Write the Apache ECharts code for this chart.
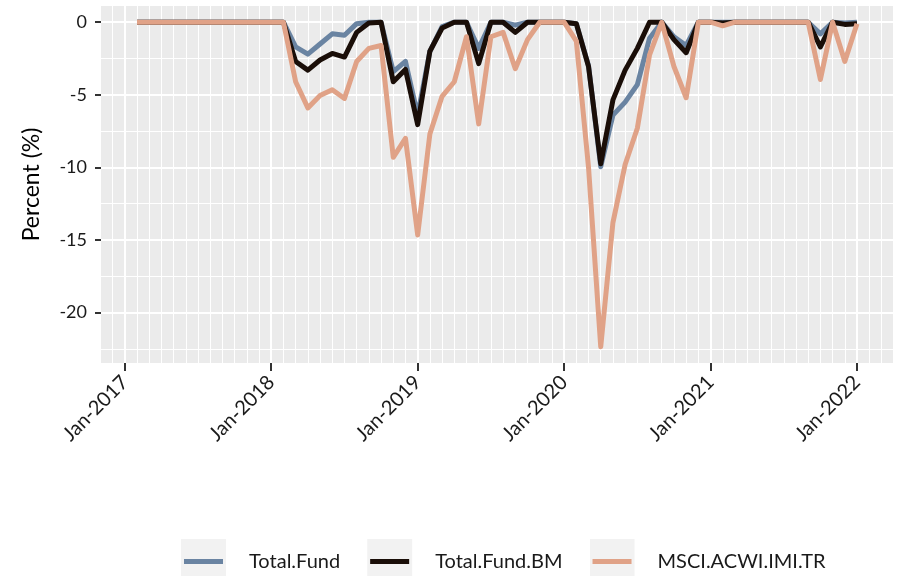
<!DOCTYPE html>
<html>
<head>
<meta charset="utf-8">
<script src="https://cdn.jsdelivr.net/npm/echarts@6/dist/echarts.min.js"></script>
<style>
  html, body { margin: 0; padding: 0; background: #fff; }
  #chart { width: 899px; height: 576px; }
</style>
</head>
<body>
<div id="chart"></div>
<script>
var chart = echarts.init(document.getElementById('chart'));

// month-end dates (drawdown series, monthly)
var dates = [
  '2017-01-31','2017-02-28','2017-03-31','2017-04-30','2017-05-31','2017-06-30',
  '2017-07-31','2017-08-31','2017-09-30','2017-10-31','2017-11-30','2017-12-31',
  '2018-01-31','2018-02-28','2018-03-31','2018-04-30','2018-05-31','2018-06-30',
  '2018-07-31','2018-08-31','2018-09-30','2018-10-31','2018-11-30','2018-12-31',
  '2019-01-31','2019-02-28','2019-03-31','2019-04-30','2019-05-31','2019-06-30',
  '2019-07-31','2019-08-31','2019-09-30','2019-10-31','2019-11-30','2019-12-31',
  '2020-01-31','2020-02-29','2020-03-31','2020-04-30','2020-05-31','2020-06-30',
  '2020-07-31','2020-08-31','2020-09-30','2020-10-31','2020-11-30','2020-12-31',
  '2021-01-31','2021-02-28','2021-03-31','2021-04-30','2021-05-31','2021-06-30',
  '2021-07-31','2021-08-31','2021-09-30','2021-10-31','2021-11-30','2021-12-31'
];

var totalFund = [
  0, 0, 0, 0, 0, 0, 0, 0, 0, 0, 0, 0,
  0, -1.7, -2.2, -1.5, -0.8, -0.9, -0.1, 0, 0, -3.4, -2.7, -6.4,
  -2.0, -0.3, 0, 0, -1.8, 0, 0, -0.2, 0, 0, 0, 0,
  -0.1, -3.0, -9.95, -6.4, -5.5, -4.3, -1.1, 0, -1.0, -1.6, 0, 0,
  0, 0, 0, 0, 0, 0, 0, 0, -0.8, 0, -0.05, 0
];
var totalFundBM = [
  0, 0, 0, 0, 0, 0, 0, 0, 0, 0, 0, 0,
  0, -2.7, -3.3, -2.6, -2.15, -2.4, -0.7, -0.05, 0, -4.1, -3.25, -7.05,
  -2.0, -0.4, 0, 0, -2.85, 0, 0, -0.7, 0, 0, 0, 0,
  -0.1, -3.05, -9.75, -5.35, -3.3, -1.8, 0, 0, -1.2, -2.1, 0, 0,
  -0.05, 0, 0, 0, 0, 0, 0, 0, -1.7, 0, -0.15, -0.1
];
var msciAcwi = [
  0, 0, 0, 0, 0, 0, 0, 0, 0, 0, 0, 0,
  0, -4.1, -5.9, -5.05, -4.65, -5.25, -2.7, -1.8, -1.6, -9.3, -8.0, -14.65,
  -7.7, -5.1, -4.1, -1.0, -7.0, -1.0, -0.7, -3.2, -1.2, 0, 0, 0,
  -1.3, -10.0, -22.35, -13.8, -9.8, -7.3, -2.25, 0, -3.05, -5.2, 0, 0,
  -0.25, 0, 0, 0, 0, 0, 0, 0, -3.95, 0, -2.7, -0.1
];

var seriesNames = ['Total.Fund', 'Total.Fund.BM', 'MSCI.ACWI.IMI.TR'];
var seriesColors = ['#6A84A2', '#1A0E08', '#E0A287'];

var yMajor = [-20, -15, -10, -5, 0];
var yMinor = [-22.5, -17.5, -12.5, -7.5, -2.5];

// x position in months since Jan-2017 (month-end ~ start of next month)
function monthPos(d) {
  var p = d.split('-');
  return (+p[0] - 2017) * 12 + (+p[1]);
}
var xs = dates.map(monthPos);

var xMajor = [];
var xMinor = [];
for (var m = -1; m <= 62; m++) {
  if (m % 12 === 0) xMajor.push(m); else xMinor.push(m);
}

// ggplot-like 5% expansion
var xLo = xs[0], xHi = xs[xs.length - 1];
var xPad = (xHi - xLo) * 0.05;
var allVals = totalFund.concat(totalFundBM, msciAcwi);
var yLo = Math.min.apply(null, allVals), yHi = Math.max.apply(null, allVals);
var yPad = (yHi - yLo) * 0.05;

function pairs(vals) {
  return vals.map(function (v, i) { return [xs[i], v]; });
}

function keyIcon(color) {
  var svg = '<svg xmlns="http://www.w3.org/2000/svg" width="63" height="45" viewBox="0 0 63 45">' +
    '<rect x="0" y="0" width="45" height="45" fill="#F2F2F2"/>' +
    '<rect x="3" y="20" width="39" height="5" fill="' + color + '"/></svg>';
  return 'image://data:image/svg+xml;charset=utf-8,' + encodeURIComponent(svg);
}

var font = 'Lato';
var gridLineColor = '#FFFFFF';

var option = {
  animation: false,
  backgroundColor: '#FFFFFF',
  grid: {
    left: 101, right: 6, top: 6, bottom: 213,
    show: true, backgroundColor: '#EBEBEB', borderWidth: 0
  },
  legend: {
    left: 176, top: 534,
    itemWidth: 63, itemHeight: 45, itemGap: 27,
    textStyle: { fontFamily: font, fontSize: 20, color: '#1A1A1A' },
    data: seriesNames.map(function (n, i) { return { name: n, icon: keyIcon(seriesColors[i]) }; })
  },
  xAxis: [
    {
      type: 'value', min: xLo - xPad, max: xHi + xPad,
      axisLine: { show: false, onZero: false },
      axisTick: { show: true, length: 8, customValues: xMajor, lineStyle: { color: '#333', width: 2 } },
      axisLabel: {
        customValues: xMajor, rotate: 45, margin: 16,
        fontFamily: font, fontSize: 20, color: '#1A1A1A',
        formatter: function (v) { return 'Jan-' + (2017 + Math.round(v / 12)); }
      },
      splitLine: { show: true, lineStyle: { color: gridLineColor, width: 2 } }
    },
    {
      type: 'value', min: xLo - xPad, max: xHi + xPad,
      axisLine: { show: false, onZero: false },
      axisTick: { show: false, customValues: xMinor },
      axisLabel: { show: false, customValues: xMinor },
      splitLine: { show: true, lineStyle: { color: gridLineColor, width: 1 } }
    }
  ],
  yAxis: [
    {
      type: 'value', min: yLo - yPad, max: yHi + yPad,
      name: 'Percent (%)', nameLocation: 'middle', nameGap: 58,
      nameTextStyle: { fontFamily: font, fontSize: 23, color: '#000' },
      axisLine: { show: false, onZero: false },
      axisTick: { show: true, length: 6, customValues: yMajor, lineStyle: { color: '#333', width: 2 } },
      axisLabel: { customValues: yMajor, margin: 14, fontFamily: font, fontSize: 18, color: '#1A1A1A' },
      splitLine: { show: true, lineStyle: { color: gridLineColor, width: 2 } }
    },
    {
      type: 'value', min: yLo - yPad, max: yHi + yPad,
      axisLine: { show: false, onZero: false },
      axisTick: { show: false, customValues: yMinor },
      axisLabel: { show: false, customValues: yMinor },
      splitLine: { show: true, lineStyle: { color: gridLineColor, width: 1 } }
    }
  ],
  series: [
    { name: seriesNames[0], type: 'line', data: pairs(totalFund), color: seriesColors[0] },
    { name: seriesNames[1], type: 'line', data: pairs(totalFundBM), color: seriesColors[1] },
    { name: seriesNames[2], type: 'line', data: pairs(msciAcwi), color: seriesColors[2] }
  ].map(function (s) {
    s.symbol = 'none';
    s.lineStyle = { width: 5, cap: 'butt', join: 'round' };
    return s;
  })
};

chart.setOption(option);
</script>
</body>
</html>
